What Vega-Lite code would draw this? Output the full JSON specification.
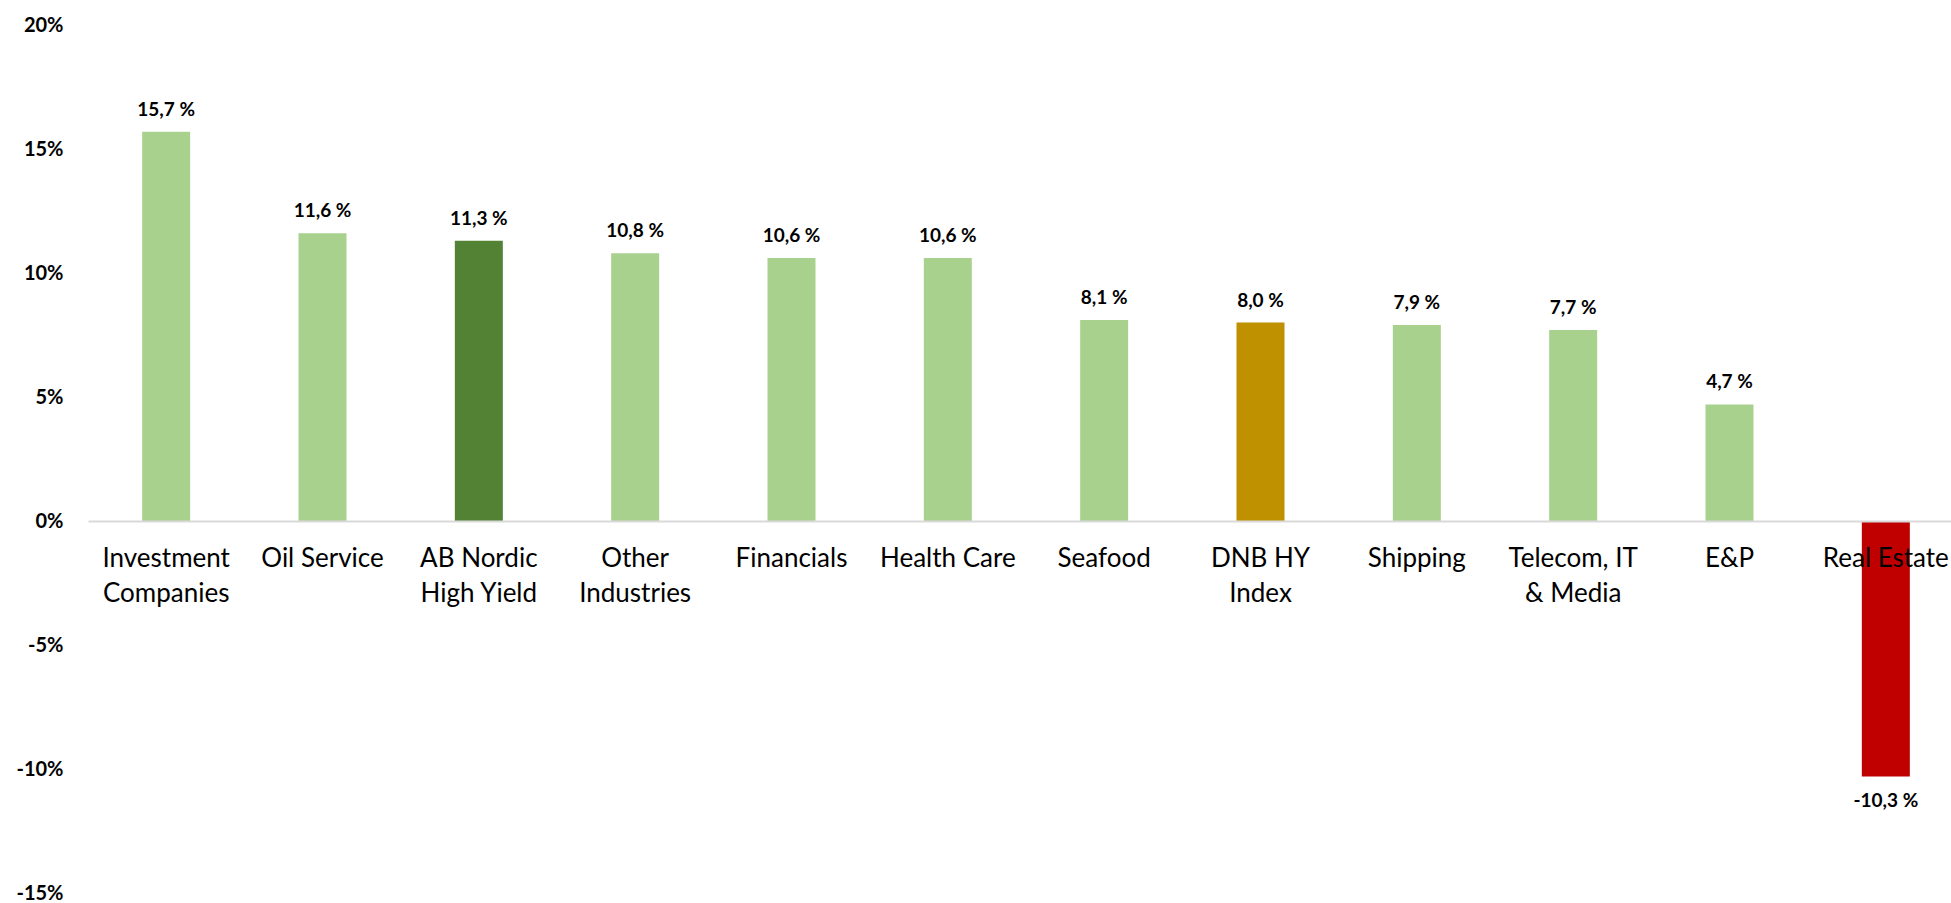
{
  "$schema": "https://vega.github.io/schema/vega-lite/v6.json",
  "autosize": {"type": "none"},
  "padding": {"left": 88, "top": 25, "right": 0, "bottom": 10},
  "width": 1863,
  "height": 868,
  "background": "white",
  "config": {
    "view": {"stroke": null},
    "font": "Lato"
  },
  "data": {
    "values": [
      {"sector": "Investment|Companies", "value": 15.7, "type": "sector"},
      {"sector": "Oil Service", "value": 11.6, "type": "sector"},
      {"sector": "AB Nordic|High Yield", "value": 11.3, "type": "fund"},
      {"sector": "Other|Industries", "value": 10.8, "type": "sector"},
      {"sector": "Financials", "value": 10.6, "type": "sector"},
      {"sector": "Health Care", "value": 10.6, "type": "sector"},
      {"sector": "Seafood", "value": 8.1, "type": "sector"},
      {"sector": "DNB HY|Index", "value": 8.0, "type": "index"},
      {"sector": "Shipping", "value": 7.9, "type": "sector"},
      {"sector": "Telecom, IT|& Media", "value": 7.7, "type": "sector"},
      {"sector": "E&P", "value": 4.7, "type": "sector"},
      {"sector": "Real Estate", "value": -10.3, "type": "negative"}
    ]
  },
  "transform": [
    {"calculate": "(datum.value < 0 ? '-' : '') + replace(format(abs(datum.value), '.1f'), '.', ',') + ' %'", "as": "label"}
  ],
  "encoding": {
    "x": {
      "field": "sector",
      "type": "nominal",
      "sort": null,
      "scale": {"range": [0, 1876], "paddingInner": 0.69, "paddingOuter": 0.345},
      "axis": {
        "title": null,
        "offset": -372,
        "zindex": 1,
        "labelAngle": 0,
        "labelExpr": "split(datum.label, '|')",
        "labelFontSize": 26,
        "labelColor": "#000000",
        "labelLineHeight": 35,
        "labelPadding": 24,
        "labelBaseline": "top",
        "labelFont": "Lato",
        "ticks": false,
        "tickSize": 0,
        "domainColor": "#d9d9d9",
        "domainWidth": 2,
        "labelOverlap": false,
        "labelBound": false,
        "labelFlush": false
      }
    },
    "y": {
      "field": "value",
      "type": "quantitative",
      "scale": {"domain": [-15, 20], "nice": false, "zero": false},
      "axis": {
        "title": null,
        "values": [-15, -10, -5, 0, 5, 10, 15, 20],
        "labelExpr": "datum.value + '%'",
        "domain": false,
        "ticks": false,
        "tickSize": 0,
        "grid": false,
        "labelPadding": 25,
        "labelFontSize": 20,
        "labelFontWeight": "bold",
        "labelColor": "#000000",
        "labelFont": "Lato",
        "labelOverlap": false,
        "labelFlush": false,
        "labelBound": false
      }
    }
  },
  "layer": [
    {
      "mark": {"type": "bar", "width": 48},
      "encoding": {
        "color": {
          "field": "type",
          "type": "nominal",
          "scale": {
            "domain": ["sector", "fund", "index", "negative"],
            "range": ["#a9d18e", "#548235", "#bf9000", "#c00000"]
          },
          "legend": null
        }
      }
    },
    {
      "transform": [{"filter": "datum.value >= 0"}],
      "mark": {"type": "text", "baseline": "alphabetic", "dy": -16, "fontSize": 19, "fontWeight": "bold", "color": "#000000", "font": "Lato"},
      "encoding": {"text": {"field": "label"}}
    },
    {
      "transform": [{"filter": "datum.value < 0"}],
      "mark": {"type": "text", "baseline": "alphabetic", "dy": 31, "fontSize": 19, "fontWeight": "bold", "color": "#000000", "font": "Lato"},
      "encoding": {"text": {"field": "label"}}
    }
  ]
}
